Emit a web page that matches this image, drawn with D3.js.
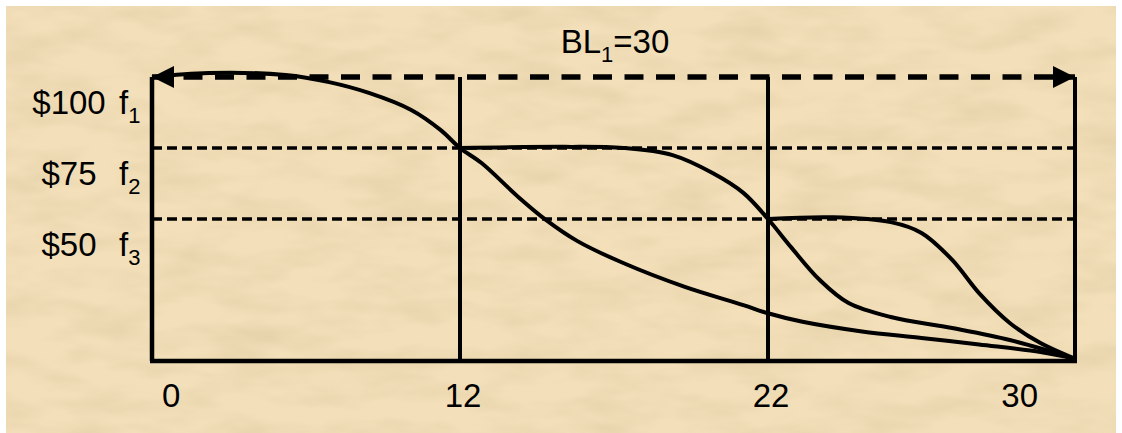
<!DOCTYPE html>
<html>
<head>
<meta charset="utf-8">
<script src="https://cdn.jsdelivr.net/npm/d3@7"></script>
<style>
  html, body { margin: 0; padding: 0; background: #fff; }
  svg { display: block; font-family: "Liberation Sans", Arial, sans-serif; }
</style>
</head>
<body>
<svg width="1122" height="433"></svg>
<script>
// booking limit periods on the x axis
const periods = [0, 12, 22, 30];
// fare levels and their labels
const fareLevels = [75, 50];
const priceLabels = ["$100", "$75", "$50"];
const priceValues = [100, 75, 50];
const fareSubs = ["1", "2", "3"];

// demand / price curves  [period, price]
const curveF1 = [[0,100],[2.2,101.4],[5.2,100.7],[6.9,98.2],[8.45,94.4],[10.1,88.4],[11.25,81.3],[12,75],
  [12.7,69.7],[13.9,57.7],[14.8,49.6],[15.8,42.3],[17.3,34.5],[19.3,26.1],[21.2,19.7],[22,16.8],
  [22.9,13.8],[24.45,10.4],[26,8.1],[27.5,5.8],[29.1,3.2],[30,0.8]];
const curveF2 = [[12,75],[15.4,75.4],[17.3,75],[18.9,72.5],[20.2,66.2],[21.2,59.2],[22,50],
  [22.6,40.1],[23.35,28.5],[24.1,20.4],[25.2,15.5],[26.8,11.6],[28.3,7.4],[30,0.8]];
const curveF3 = [[22,50],[23.7,50.6],[25.2,48.9],[26,45.1],[26.8,35.6],[27.5,23.9],[28.3,13.4],[29.1,6.3],[30,0.8]];

const svg = d3.select('svg');

// parchment background
const defs = svg.append('defs');
const filt = defs.append('filter').attr('id','paper').attr('x',0).attr('y',0).attr('width','100%').attr('height','100%');
filt.append('feTurbulence').attr('type','fractalNoise').attr('baseFrequency','0.014 0.04').attr('numOctaves',3).attr('seed',7);
filt.append('feColorMatrix').attr('type','matrix')
  .attr('values','0 0 0 0 0.76  0 0 0 0 0.62  0 0 0 0 0.38  1.4 0 0 0 -0.52');
filt.append('feComposite').attr('in2','SourceGraphic').attr('operator','in');

svg.append('rect').attr('x',6).attr('y',6).attr('width',1110).attr('height',427).attr('fill','#F3E0BA');
svg.append('rect').attr('x',6).attr('y',6).attr('width',1110).attr('height',427).attr('fill','#000')
  .attr('filter','url(#paper)');

const x = d3.scaleLinear().domain(periods).range([152, 460, 768, 1075]);
const y = d3.scaleLinear().domain([0, 100]).range([361, 77]);

// arrow heads
['start','end'].forEach(function(k){
  defs.append('marker').attr('id','arr-'+k)
    .attr('markerUnits','userSpaceOnUse').attr('markerWidth',24).attr('markerHeight',24)
    .attr('viewBox','0 -12 24 24').attr('refX', k=='end' ? 22 : 0).attr('refY',0).attr('orient','auto')
    .append('path')
    .attr('d', k=='end' ? 'M0,-11L22,0L0,11Z' : 'M22,-11L0,0L22,11Z')
    .attr('fill','#000');
});

const chart = svg.append('g');

// fare level dashed lines
chart.selectAll('.lvl').data(fareLevels).enter().append('line')
  .attr('x1', x(0)).attr('x2', x(30))
  .attr('y1', d=>y(d)).attr('y2', d=>y(d))
  .attr('stroke','#000').attr('stroke-width',3.5).attr('stroke-dasharray','10,5');

// vertical period lines
chart.selectAll('.vl').data(periods.slice(1)).enter().append('line')
  .attr('x1', d=>x(d)).attr('x2', d=>x(d))
  .attr('y1', y(100)).attr('y2', y(0))
  .attr('stroke','#000').attr('stroke-width',4);

// axes
chart.append('line').attr('x1',x(0)).attr('x2',x(0)).attr('y1',y(100)).attr('y2',y(0))
  .attr('stroke','#000').attr('stroke-width',4.5);
chart.append('line').attr('x1',x(0)-2).attr('x2',x(30)+2).attr('y1',y(0)).attr('y2',y(0))
  .attr('stroke','#000').attr('stroke-width',4.5);

// BL arrow
chart.append('line').attr('x1',x(0)).attr('x2',x(30)).attr('y1',y(100)).attr('y2',y(100))
  .attr('stroke','#000').attr('stroke-width',5.5).attr('stroke-dasharray','19,12.5')
  .attr('marker-start','url(#arr-start)').attr('marker-end','url(#arr-end)');

// curves
const line = d3.line().x(d=>x(d[0])).y(d=>y(d[1])).curve(d3.curveCatmullRom.alpha(0.5));
[curveF1, curveF2, curveF3].forEach(function(c){
  chart.append('path').attr('d', line(c)).attr('fill','none')
    .attr('stroke','#000').attr('stroke-width',4).attr('stroke-linejoin','round');
});

// x labels
chart.selectAll('.xl').data(periods).enter().append('text')
  .attr('x', d=>x(d)).attr('y', 407)
  .attr('dx', (d,i)=> i==0 ? 10 : (i==periods.length-1 ? -37 : 3))
  .attr('text-anchor', (d,i)=> i==0 ? 'start' : (i==periods.length-1 ? 'end' : 'middle'))
  .attr('font-size',33).text(d=>d);

// y labels
chart.selectAll('.yl').data(priceValues).enter().append('text')
  .attr('x', 69).attr('y', d=>y(d)+37).attr('text-anchor','middle')
  .attr('font-size',33).text((d,i)=>priceLabels[i]);
const fl = chart.selectAll('.fl').data(priceValues).enter().append('text')
  .attr('x', 119).attr('y', d=>y(d)+37).attr('font-size',33);
fl.append('tspan').text('f');
fl.append('tspan').attr('font-size',22).attr('dy',9).text((d,i)=>fareSubs[i]);

// title
const t = chart.append('text').attr('x', 615).attr('y', 53).attr('text-anchor','middle').attr('font-size',33);
t.append('tspan').text('BL');
t.append('tspan').attr('font-size',22).attr('dy',9).text('1');
t.append('tspan').attr('dy',-9).text('=30');
</script>
</body>
</html>
